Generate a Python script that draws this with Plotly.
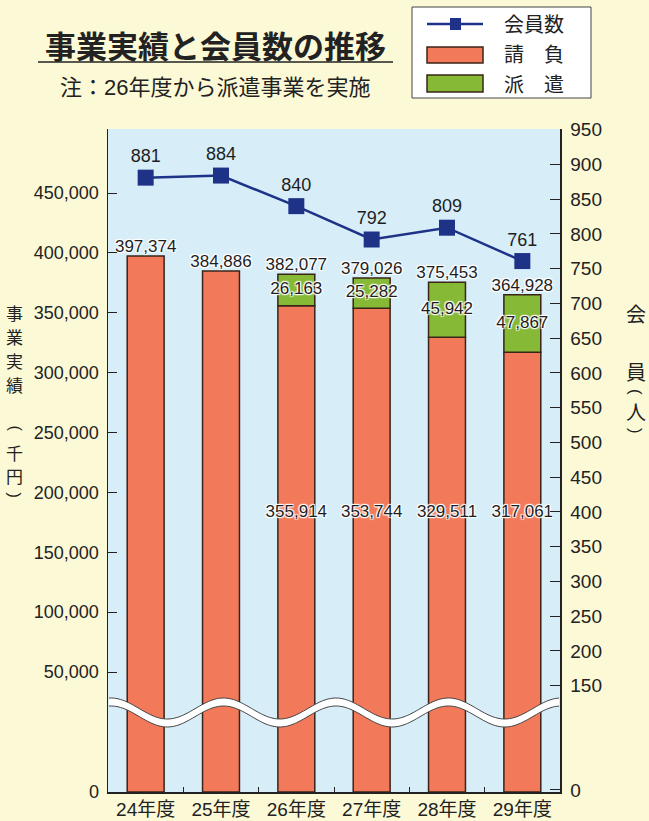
import numpy as np
import plotly.graph_objects as go

# ---------------- data ----------------
years = ["24年度", "25年度", "26年度", "27年度", "28年度", "29年度"]
members = [881, 884, 840, 792, 809, 761]                          # 会員数 (人)
ukeoi = [397374, 384886, 355914, 353744, 329511, 317061]          # 請負 (千円)
haken = [None, None, 26163, 25282, 45942, 47867]                  # 派遣 (千円)
totals = [397374, 384886, 382077, 379026, 375453, 364928]         # 事業実績 合計

left_tick_values = [50000, 100000, 150000, 200000, 250000, 300000, 350000, 400000, 450000]
left_tick_labels = [f"{v:,}" for v in left_tick_values]
right_tick_values = [0, 150, 200, 250, 300, 350, 400, 450, 500, 550, 600, 650,
                     700, 750, 800, 850, 900, 950]
right_tick_labels = [str(v) for v in right_tick_values]

# ---------------- layout geometry (pixels) ----------------
W, H = 649, 821
L, R, T, B = 108, 560, 129, 792

def px(xp):
    return (xp - L) / (R - L)

def py(yp):
    return (B - yp) / (B - T)

# left axis: 50,000 at y=672px, 450,000 at y=193px (broken below 50,000)
PPU = (672 - 193) / 400000.0
def val_at(yp):
    return 50000 + (672 - yp) / PPU

Y_BOTTOM = val_at(B)
Y_TOP = val_at(T)
UKE_LABEL_Y = val_at(513)
Y2_RANGE = [-2.9, 951]

ORANGE = "#F27A5A"
GREEN = "#86BA36"
NAVY = "#1E3388"
EDGE = "#3A2418"
TXT = "#1E1E1E"
NUMFONT = "Liberation Sans, Arial, Noto Sans CJK JP, sans-serif"
CJK = "Noto Sans CJK JP, sans-serif"
HALO = "1px 1px 1px #fff, -1px -1px 1px #fff, 1px -1px 1px #fff, -1px 1px 1px #fff, 0 0 2px #fff"

fig = go.Figure()

# 請負 bars (drawn from the bottom of the broken axis)
fig.add_trace(go.Bar(
    x=years, y=[u - Y_BOTTOM for u in ukeoi], base=Y_BOTTOM,
    width=0.49, marker=dict(color=ORANGE, line=dict(color=EDGE, width=1.5)),
    hoverinfo="skip", showlegend=False))

# 派遣 bars stacked on top of 請負
fig.add_trace(go.Bar(
    x=years, y=haken, base=ukeoi,
    width=0.49, marker=dict(color=GREEN, line=dict(color=EDGE, width=1.5)),
    hoverinfo="skip", showlegend=False))

# total labels above bars
fig.add_trace(go.Scatter(
    x=years, y=totals, mode="text", text=[f"{v:,}" for v in totals],
    textposition="top center",
    textfont=dict(family=NUMFONT, size=17, color=TXT, shadow=HALO),
    hoverinfo="skip", showlegend=False))

# 派遣 labels (middle of green segment)
idx = [i for i, h in enumerate(haken) if h is not None]
fig.add_trace(go.Scatter(
    x=[years[i] for i in idx], y=[ukeoi[i] + haken[i] / 2 for i in idx],
    mode="text", text=[f"{haken[i]:,}" for i in idx], textposition="middle center",
    textfont=dict(family=NUMFONT, size=17, color=TXT, shadow=HALO),
    hoverinfo="skip", showlegend=False))

# 請負 labels inside bars
fig.add_trace(go.Scatter(
    x=[years[i] for i in idx], y=[UKE_LABEL_Y] * len(idx),
    mode="text", text=[f"{ukeoi[i]:,}" for i in idx], textposition="middle center",
    textfont=dict(family=NUMFONT, size=17, color=TXT, shadow=HALO),
    hoverinfo="skip", showlegend=False))

# 会員数 line
fig.add_trace(go.Scatter(
    x=years, y=members, yaxis="y2", mode="lines+markers+text",
    text=[str(m) for m in members], textposition="top center",
    textfont=dict(family=NUMFONT, size=18, color=TXT),
    line=dict(color=NAVY, width=2.5),
    marker=dict(symbol="square", size=16, color=NAVY),
    hoverinfo="skip", showlegend=False))

shapes = []
annotations = []

# wavy break band
xs = np.linspace(L + 1, R - 1, 200)
center = 712.5 - 10.5 * np.cos(2 * np.pi * (xs - 111) / 112.5)
upper = center - 4
lower = center + 4
poly = "M " + " L ".join(f"{px(x):.5f},{py(y):.5f}" for x, y in zip(xs, upper))
poly += " L " + " L ".join(f"{px(x):.5f},{py(y):.5f}" for x, y in zip(xs[::-1], lower[::-1])) + " Z"
shapes.append(dict(type="path", path=poly, xref="paper", yref="paper",
                   fillcolor="white", line=dict(width=0), layer="above"))
for edge in (upper, lower):
    p = "M " + " L ".join(f"{px(x):.5f},{py(y):.5f}" for x, y in zip(xs, edge))
    shapes.append(dict(type="path", path=p, xref="paper", yref="paper",
                       line=dict(color="#444", width=1), layer="above"))

# title + underline
annotations.append(dict(text="事業実績と会員数の推移", x=px(215.5), y=py(44), xref="paper", yref="paper",
                        showarrow=False, xanchor="center", yanchor="middle",
                        font=dict(family=CJK, size=31, color="#222", weight=700)))
shapes.append(dict(type="line", x0=px(38), x1=px(393), y0=py(62), y1=py(62),
                   xref="paper", yref="paper", line=dict(color="#222", width=1.5)))
annotations.append(dict(text="注：26年度から派遣事業を実施", x=px(215), y=py(87), xref="paper", yref="paper",
                        showarrow=False, xanchor="center", yanchor="middle",
                        font=dict(family="Liberation Sans, Noto Sans CJK JP", size=22, color="#222")))

# legend box
shapes.append(dict(type="rect", x0=px(412), x1=px(591), y0=py(7), y1=py(98), xref="paper", yref="paper",
                   fillcolor="#FFFFFF", line=dict(color="#444", width=1)))
shapes.append(dict(type="line", x0=px(427), x1=px(483), y0=py(24), y1=py(24), xref="paper", yref="paper",
                   line=dict(color=NAVY, width=2.5)))
shapes.append(dict(type="rect", x0=px(450), x1=px(461), y0=py(18), y1=py(30), xref="paper", yref="paper",
                   fillcolor=NAVY, line=dict(width=0)))
shapes.append(dict(type="rect", x0=px(427), x1=px(483), y0=py(47), y1=py(63), xref="paper", yref="paper",
                   fillcolor=ORANGE, line=dict(color=EDGE, width=1.5)))
shapes.append(dict(type="rect", x0=px(427), x1=px(483), y0=py(75), y1=py(92), xref="paper", yref="paper",
                   fillcolor=GREEN, line=dict(color=EDGE, width=1.5)))
for label, yy in (("会員数", 24), ("請　負", 54), ("派　遣", 83)):
    annotations.append(dict(text=label, x=px(502), y=py(yy), xref="paper", yref="paper",
                            showarrow=False, xanchor="left", yanchor="middle",
                            font=dict(family=CJK, size=20, color="#222")))

# vertical axis titles
def vchar(ch, xp, yp, size, rot=False):
    annotations.append(dict(text=ch, x=px(xp), y=py(yp), xref="paper", yref="paper",
                            showarrow=False, xanchor="center", yanchor="middle",
                            textangle=90 if rot else 0, borderpad=0,
                            font=dict(family=("Liberation Sans" if rot else CJK), size=size, color="#222")))

for ch, yy in (("事", 312), ("業", 336), ("実", 360), ("績", 384), ("千", 452), ("円", 476)):
    vchar(ch, 14.5, yy, 17)
vchar("(", 14.5, 428, 16, rot=True)
vchar(")", 14.5, 495, 16, rot=True)

for ch, yy in (("会", 313), ("員", 371), ("人", 411)):
    vchar(ch, 636, yy, 20)
vchar("(", 636, 392, 17, rot=True)
vchar(")", 636, 431, 17, rot=True)

fig.update_layout(
    width=W, height=H,
    margin=dict(l=L, r=W - R, t=T, b=H - B, autoexpand=False),
    paper_bgcolor="#FCF9D6", plot_bgcolor="#D7EEF9",
    barmode="overlay", showlegend=False,
    shapes=shapes, annotations=annotations,
    xaxis=dict(type="category", range=[-0.5, 5.5], showline=True, linecolor="#222", linewidth=1.5,
               ticks="inside", tickson="boundaries", ticklen=5, tickcolor="#222",
               showgrid=False, zeroline=False,
               tickfont=dict(family="Liberation Sans, Noto Sans CJK JP", size=19, color="#222")),
    yaxis=dict(range=[Y_BOTTOM, Y_TOP], showline=True, linecolor="#222", linewidth=1.5,
               tickvals=[Y_BOTTOM + 50] + left_tick_values, ticktext=["0"] + left_tick_labels,
               ticks="inside", ticklen=9, tickcolor="#222", showgrid=False, zeroline=False,
               ticklabelstandoff=4,
               tickfont=dict(family=NUMFONT, size=18, color="#222")),
    yaxis2=dict(range=Y2_RANGE, overlaying="y", side="right", showline=True, linecolor="#222",
                linewidth=1.5, tickvals=right_tick_values, ticktext=right_tick_labels,
                ticks="inside", ticklen=10, tickcolor="#222", showgrid=False, zeroline=False,
                ticklabelstandoff=5,
                tickfont=dict(family=NUMFONT, size=19, color="#222")),
)

fig.write_html(
    "out.html",
    config={"displayModeBar": False, "staticPlot": True},
    post_script="document.body.style.margin='0';document.body.style.overflow='hidden';"
                "document.documentElement.style.overflow='hidden';",
)
